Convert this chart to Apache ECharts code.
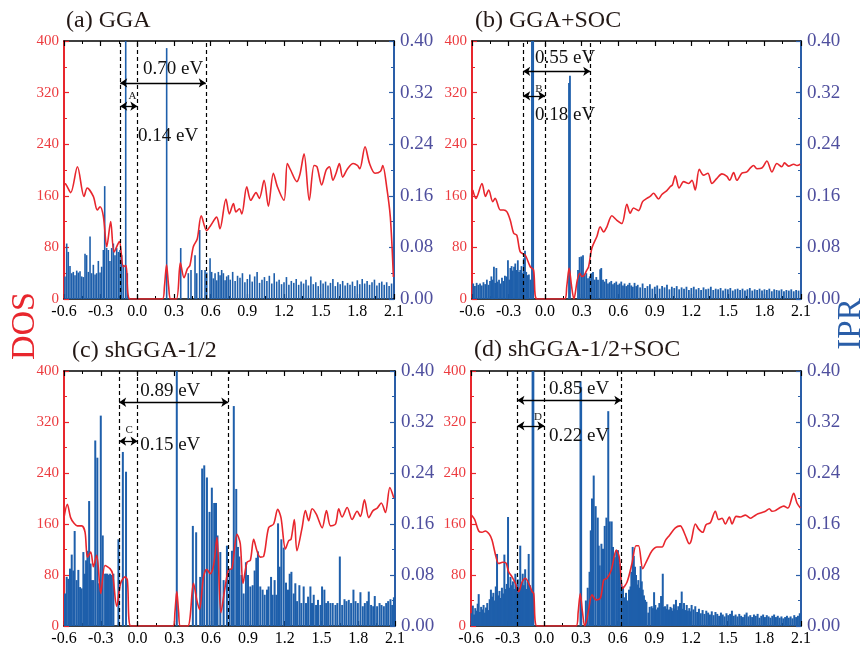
<!DOCTYPE html>
<html>
<head>
<meta charset="utf-8">
<script src="https://cdn.jsdelivr.net/npm/echarts/dist/echarts.min.js"></script>
<style>
html,body{margin:0;padding:0;background:#fff}
#chart{width:864px;height:647px}
</style>
</head>
<body>
<div id="chart"></div>
<script>
// ---------- DOS curves: [energy (eV), DOS] ----------
const dosA = [[-0.60,179],[-0.585,178],[-0.545,165],[-0.49,205],[-0.436,159],[-0.41,172],[-0.36,159],[-0.328,138],[-0.305,143],[-0.278,128],[-0.25,81],[-0.218,120],[-0.19,73],[-0.147,89],[-0.115,50],[-0.093,52],[-0.06,0],[0.205,0],[0.222,20],[0.239,53],[0.256,20],[0.273,0],[0.32,0],[0.352,56],[0.382,33],[0.41,47],[0.43,52],[0.458,81],[0.49,93],[0.523,129],[0.567,106],[0.60,114],[0.649,127],[0.676,109],[0.725,155],[0.753,132],[0.786,148],[0.807,135],[0.835,140],[0.855,132],[0.895,174],[0.928,153],[0.971,165],[0.998,156],[1.037,184],[1.072,144],[1.113,195],[1.146,174],[1.20,153],[1.227,210],[1.254,200],[1.305,182],[1.33,193],[1.364,225],[1.407,153],[1.446,207],[1.47,205],[1.508,177],[1.545,200],[1.572,205],[1.60,184],[1.626,195],[1.653,210],[1.68,189],[1.72,202],[1.766,210],[1.80,207],[1.82,202],[1.863,236],[1.90,210],[1.945,195],[1.99,198],[2.008,207],[2.04,174],[2.07,127],[2.095,34]];

const dosB = [[-0.594,169],[-0.567,156],[-0.518,179],[-0.49,159],[-0.463,169],[-0.43,151],[-0.41,156],[-0.368,138],[-0.34,138],[-0.313,135],[-0.286,122],[-0.258,102],[-0.232,99],[-0.204,73],[-0.163,68],[-0.122,50],[-0.095,45],[-0.067,0],[0.16,0],[0.178,20],[0.197,48],[0.217,20],[0.236,0],[0.265,30],[0.285,40],[0.30,35],[0.318,36],[0.34,44],[0.357,50],[0.384,79],[0.425,97],[0.452,112],[0.48,104],[0.507,112],[0.548,129],[0.589,122],[0.63,117],[0.671,147],[0.698,133],[0.725,141],[0.767,137],[0.80,151],[0.835,156],[0.862,159],[0.89,164],[0.931,155],[0.958,162],[0.999,168],[1.026,174],[1.045,177],[1.068,191],[1.10,172],[1.137,182],[1.178,179],[1.205,184],[1.232,169],[1.265,201],[1.30,192],[1.336,195],[1.369,179],[1.41,187],[1.451,194],[1.492,190],[1.514,184],[1.547,196],[1.574,184],[1.615,195],[1.656,197],[1.683,203],[1.711,207],[1.738,202],[1.779,203],[1.82,214],[1.861,197],[1.902,210],[1.943,205],[1.965,211],[1.998,206],[2.04,209],[2.067,207],[2.094,209]];

const dosC = [[-0.60,170],[-0.573,191],[-0.546,170],[-0.518,161],[-0.491,157],[-0.455,157],[-0.428,147],[-0.409,108],[-0.382,116],[-0.36,93],[-0.333,111],[-0.30,51],[-0.265,95],[-0.225,90],[-0.204,82],[-0.17,31],[-0.138,67],[-0.102,77],[-0.083,72],[-0.055,0],[0.29,0],[0.305,22],[0.32,54],[0.335,22],[0.35,0],[0.41,0],[0.456,67],[0.483,41],[0.505,26],[0.538,77],[0.565,89],[0.593,82],[0.62,95],[0.648,139],[0.68,21],[0.715,62],[0.742,88],[0.77,90],[0.811,144],[0.838,129],[0.86,67],[0.893,100],[0.92,103],[0.947,136],[0.974,118],[1.001,108],[1.028,109],[1.069,154],[1.11,160],[1.143,183],[1.17,170],[1.206,121],[1.233,134],[1.252,136],[1.279,167],[1.30,118],[1.342,154],[1.369,181],[1.396,165],[1.424,184],[1.459,175],[1.506,154],[1.541,181],[1.574,157],[1.615,160],[1.641,184],[1.668,171],[1.71,186],[1.75,167],[1.791,180],[1.818,172],[1.851,198],[1.886,170],[1.921,181],[1.955,185],[1.988,193],[2.022,178],[2.058,217],[2.09,201]];

const dosD = [[-0.597,174],[-0.57,167],[-0.537,149],[-0.51,147],[-0.483,149],[-0.45,144],[-0.428,135],[-0.395,108],[-0.373,98],[-0.341,100],[-0.314,99],[-0.292,85],[-0.264,77],[-0.237,67],[-0.21,54],[-0.182,69],[-0.155,75],[-0.128,67],[-0.10,54],[-0.087,51],[-0.06,0],[0.26,0],[0.277,22],[0.294,51],[0.312,22],[0.33,0],[0.345,8],[0.363,26],[0.39,49],[0.423,41],[0.459,44],[0.486,72],[0.513,75],[0.548,88],[0.589,119],[0.613,108],[0.641,59],[0.677,69],[0.717,98],[0.75,126],[0.771,126],[0.805,90],[0.84,103],[0.881,118],[0.922,124],[0.963,124],[0.99,134],[1.023,142],[1.072,154],[1.113,157],[1.132,152],[1.154,142],[1.186,129],[1.202,134],[1.236,160],[1.263,152],[1.296,147],[1.323,159],[1.358,162],[1.399,180],[1.426,167],[1.454,169],[1.481,160],[1.514,171],[1.536,160],[1.569,172],[1.604,171],[1.645,174],[1.686,169],[1.713,172],[1.748,176],[1.781,178],[1.809,180],[1.841,184],[1.863,180],[1.89,181],[1.923,185],[1.958,188],[1.993,185],[2.04,208],[2.067,193],[2.095,185]];

// ---------- IPR of each state: [energy (eV), IPR] ----------
const iprA = [[-0.592,0.035],[-0.578,0.086],[-0.565,0.073],[-0.551,0.051],[-0.537,0.040],[-0.524,0.042],[-0.510,0.037],[-0.496,0.044],[-0.483,0.041],[-0.469,0.043],[-0.455,0.035],[-0.442,0.034],[-0.428,0.070],[-0.415,0.068],[-0.401,0.042],[-0.387,0.097],[-0.374,0.040],[-0.360,0.053],[-0.346,0.038],[-0.333,0.040],[-0.319,0.059],[-0.305,0.041],[-0.292,0.050],[-0.278,0.076],[-0.267,0.175],[-0.251,0.079],[-0.237,0.076],[-0.224,0.059],[-0.210,0.079],[-0.196,0.086],[-0.183,0.068],[-0.169,0.079],[-0.155,0.073],[-0.142,0.076],[-0.128,0.068],[-0.114,0.053],[-0.095,0.450],[-0.082,0.040],
[0.240,0.389],[0.355,0.079],[0.417,0.040],[0.439,0.045],[0.472,0.068],[0.486,0.040],[0.510,0.107],[0.527,0.045],[0.554,0.045],[0.568,0.041],[0.595,0.063],[0.608,0.042],[0.622,0.032],[0.636,0.040],[0.650,0.029],[0.663,0.042],[0.677,0.037],[0.690,0.045],[0.704,0.040],[0.718,0.029],[0.731,0.035],[0.745,0.037],
[0.76,0.030],[0.78,0.042],[0.80,0.028],[0.82,0.036],[0.84,0.033],[0.86,0.040],[0.88,0.026],[0.90,0.031],[0.92,0.038],[0.94,0.027],[0.96,0.035],[0.98,0.042],[1.00,0.025],[1.02,0.030],[1.04,0.034],[1.06,0.028],[1.08,0.036],[1.10,0.024],[1.12,0.040],[1.14,0.027],[1.16,0.030],[1.18,0.023],[1.20,0.026],[1.22,0.034],[1.24,0.022],[1.26,0.028],[1.28,0.025],[1.30,0.031],[1.32,0.022],[1.34,0.027],[1.36,0.024],[1.38,0.030],[1.40,0.021],[1.42,0.035],[1.44,0.023],[1.46,0.026],[1.48,0.020],[1.50,0.029],[1.52,0.024],[1.54,0.027],[1.56,0.021],[1.58,0.025],[1.60,0.031],[1.62,0.020],[1.64,0.026],[1.66,0.023],[1.68,0.028],[1.70,0.021],[1.72,0.025],[1.74,0.022],[1.76,0.027],[1.78,0.020],[1.80,0.029],[1.82,0.023],[1.84,0.031],[1.86,0.024],[1.88,0.028],[1.90,0.022],[1.92,0.026],[1.94,0.030],[1.96,0.021],[1.98,0.025],[2.00,0.027],[2.02,0.022],[2.04,0.026],[2.06,0.020],[2.08,0.024]];

const iprB = [[-0.590,0.024],[-0.576,0.020],[-0.562,0.025],[-0.548,0.022],[-0.534,0.024],[-0.520,0.021],[-0.506,0.026],[-0.492,0.023],[-0.478,0.030],[-0.464,0.022],[-0.452,0.028],[-0.441,0.035],[-0.430,0.030],[-0.420,0.050],[-0.410,0.025],[-0.400,0.048],[-0.390,0.027],[-0.378,0.030],[-0.366,0.024],[-0.354,0.033],[-0.342,0.028],[-0.330,0.036],[-0.318,0.035],[-0.305,0.060],[-0.295,0.030],[-0.285,0.048],[-0.275,0.051],[-0.265,0.044],[-0.255,0.050],[-0.245,0.055],[-0.235,0.045],[-0.224,0.060],[-0.214,0.042],[-0.204,0.045],[-0.194,0.051],[-0.184,0.040],[-0.175,0.063],[-0.165,0.075],[-0.155,0.042],[-0.145,0.037],[-0.133,0.038],[-0.120,0.030],[-0.108,0.450],[-0.098,0.450],
[0.196,0.335],[0.204,0.346],
[0.270,0.045],[0.283,0.065],[0.297,0.066],[0.311,0.068],[0.324,0.037],[0.338,0.040],[0.352,0.032],[0.366,0.035],[0.379,0.040],[0.393,0.042],[0.407,0.030],[0.420,0.034],[0.434,0.030],[0.452,0.046],[0.461,0.048],[0.475,0.030],[0.488,0.027],[0.502,0.031],[0.516,0.024],[0.530,0.026],[0.543,0.028],[0.557,0.023],[0.570,0.025],[0.584,0.027],[0.598,0.022],[0.611,0.024],[0.625,0.027],[0.639,0.021],[0.652,0.024],[0.666,0.020],[0.680,0.022],[0.693,0.025],[0.707,0.021],[0.720,0.019],[0.734,0.025],[0.748,0.020],
[0.76,0.022],[0.78,0.018],[0.80,0.024],[0.82,0.017],[0.84,0.020],[0.86,0.023],[0.88,0.016],[0.90,0.019],[0.92,0.021],[0.94,0.016],[0.96,0.020],[0.98,0.018],[1.00,0.022],[1.02,0.015],[1.04,0.019],[1.06,0.017],[1.08,0.020],[1.10,0.015],[1.12,0.018],[1.14,0.016],[1.16,0.019],[1.18,0.014],[1.20,0.017],[1.22,0.019],[1.24,0.015],[1.26,0.017],[1.28,0.014],[1.30,0.018],[1.32,0.015],[1.34,0.016],[1.36,0.019],[1.38,0.014],[1.40,0.016],[1.42,0.015],[1.44,0.017],[1.46,0.013],[1.48,0.016],[1.50,0.015],[1.52,0.017],[1.54,0.013],[1.56,0.015],[1.58,0.016],[1.60,0.014],[1.62,0.016],[1.64,0.013],[1.66,0.015],[1.68,0.017],[1.70,0.013],[1.72,0.015],[1.74,0.014],[1.76,0.016],[1.78,0.013],[1.80,0.015],[1.82,0.014],[1.84,0.016],[1.86,0.012],[1.88,0.015],[1.90,0.014],[1.92,0.013],[1.94,0.015],[1.96,0.012],[1.98,0.014],[2.00,0.013],[2.02,0.015],[2.04,0.012],[2.06,0.014],[2.08,0.013]];

const iprC = [[-0.592,0.051],[-0.578,0.077],[-0.565,0.074],[-0.551,0.090],[-0.537,0.112],[-0.524,0.087],[-0.513,0.149],[-0.497,0.072],[-0.483,0.088],[-0.469,0.061],[-0.456,0.059],[-0.442,0.116],[-0.429,0.082],[-0.420,0.103],[-0.409,0.118],[-0.395,0.196],[-0.383,0.098],[-0.372,0.072],[-0.360,0.072],[-0.345,0.291],[-0.328,0.264],[-0.314,0.067],[-0.300,0.330],[-0.284,0.142],[-0.265,0.082],[-0.255,0.082],[-0.246,0.082],[-0.235,0.080],[-0.224,0.082],[-0.210,0.080],[-0.197,0.082],[-0.156,0.136],[-0.120,0.273],[-0.094,0.242],
[0.320,0.450],[0.451,0.157],[0.478,0.147],[0.511,0.077],[0.527,0.247],[0.544,0.252],[0.566,0.233],[0.587,0.179],[0.606,0.217],[0.625,0.193],[0.640,0.193],[0.652,0.142],[0.675,0.116],[0.702,0.072],[0.729,0.126],[0.751,0.090],[0.770,0.118],[0.785,0.345],[0.805,0.215],[0.819,0.124],[0.830,0.109],[0.848,0.080],[0.865,0.051],[0.884,0.100],[0.901,0.080],[0.920,0.062],[0.939,0.064],[0.955,0.087],[0.969,0.107],[0.982,0.117],[1.001,0.062],[1.020,0.057],[1.037,0.049],[1.056,0.057],[1.069,0.062],[1.089,0.077],[1.102,0.049],[1.118,0.072],[1.132,0.049],[1.146,0.161],[1.159,0.093],[1.173,0.136],[1.192,0.123],[1.211,0.068],[1.227,0.057],[1.241,0.082],[1.255,0.085],[1.274,0.051],[1.287,0.067],[1.301,0.039],[1.320,0.064],[1.336,0.036],[1.355,0.062],[1.374,0.036],[1.391,0.046],[1.410,0.062],[1.423,0.036],[1.437,0.049],[1.456,0.033],[1.472,0.041],[1.492,0.033],[1.505,0.062],[1.524,0.057],[1.538,0.036],[1.554,0.039],[1.573,0.036],[1.592,0.036],[1.614,0.033],[1.630,0.036],[1.650,0.109],[1.669,0.033],[1.688,0.042],[1.704,0.039],[1.723,0.041],[1.742,0.036],[1.761,0.057],[1.778,0.039],[1.797,0.036],[1.818,0.053],[1.837,0.031],[1.854,0.036],[1.873,0.039],[1.886,0.054],[1.905,0.033],[1.922,0.031],[1.935,0.047],[1.954,0.031],[1.974,0.036],[1.990,0.033],[2.009,0.031],[2.028,0.036],[2.044,0.039],[2.063,0.042],[2.077,0.033],[2.091,0.045]];

const iprD = [[-0.595,0.020],[-0.585,0.032],[-0.575,0.018],[-0.565,0.028],[-0.555,0.024],[-0.545,0.035],[-0.537,0.050],[-0.527,0.022],[-0.517,0.030],[-0.507,0.026],[-0.497,0.033],[-0.487,0.021],[-0.477,0.029],[-0.467,0.036],[-0.457,0.025],[-0.447,0.042],[-0.437,0.057],[-0.427,0.046],[-0.417,0.052],[-0.407,0.040],[-0.397,0.062],[-0.387,0.113],[-0.377,0.048],[-0.367,0.055],[-0.357,0.044],[-0.347,0.060],[-0.337,0.051],[-0.327,0.112],[-0.317,0.058],[-0.307,0.066],[-0.297,0.171],[-0.287,0.060],[-0.277,0.077],[-0.267,0.064],[-0.257,0.070],[-0.247,0.058],[-0.237,0.082],[-0.227,0.065],[-0.217,0.073],[-0.207,0.060],[-0.197,0.126],[-0.187,0.068],[-0.177,0.082],[-0.167,0.064],[-0.157,0.089],[-0.147,0.058],[-0.137,0.070],[-0.128,0.113],[-0.118,0.064],[-0.108,0.055],[-0.096,0.450],[-0.090,0.450],
[0.296,0.384],[0.301,0.375],[0.340,0.040],[0.355,0.060],[0.370,0.085],[0.380,0.150],[0.390,0.200],[0.404,0.236],[0.420,0.188],[0.437,0.170],[0.445,0.126],[0.453,0.095],[0.467,0.129],[0.480,0.121],[0.494,0.157],[0.508,0.170],[0.523,0.337],[0.535,0.164],[0.551,0.164],[0.562,0.124],[0.576,0.108],[0.589,0.118],[0.603,0.119],[0.617,0.098],[0.630,0.067],[0.644,0.062],[0.655,0.045],[0.668,0.052],[0.680,0.040],[0.693,0.057],[0.705,0.062],[0.712,0.085],[0.723,0.124],[0.732,0.110],[0.742,0.093],[0.750,0.080],[0.758,0.065],[0.769,0.072],[0.778,0.060],[0.788,0.094],[0.797,0.070],[0.805,0.057],[0.815,0.048],[0.824,0.041],[0.835,0.038],[0.851,0.021],[0.862,0.030],[0.878,0.031],[0.888,0.028],[0.898,0.053],[0.908,0.033],[0.919,0.026],[0.930,0.029],[0.941,0.036],[0.955,0.047],[0.969,0.082],[0.978,0.030],[0.988,0.031],[0.997,0.027],[1.006,0.034],[1.014,0.025],[1.022,0.026],[1.032,0.030],[1.041,0.028],[1.050,0.024],[1.060,0.034],[1.068,0.027],[1.077,0.041],[1.087,0.025],[1.096,0.031],[1.103,0.026],[1.110,0.036],[1.117,0.024],[1.124,0.054],[1.133,0.027],[1.143,0.036],[1.154,0.025],[1.165,0.033],[1.175,0.024],[1.186,0.028],[1.195,0.023],[1.205,0.033],
[1.220,0.026],[1.235,0.031],[1.250,0.022],[1.265,0.027],[1.280,0.020],[1.295,0.025],[1.310,0.019],[1.325,0.024],[1.340,0.021],[1.355,0.018],[1.370,0.023],[1.385,0.017],[1.400,0.022],[1.415,0.019],[1.430,0.016],[1.445,0.021],[1.460,0.018],[1.475,0.015],[1.490,0.020],[1.505,0.017],[1.520,0.019],[1.535,0.024],[1.550,0.016],[1.565,0.018],[1.580,0.015],[1.595,0.019],[1.610,0.016],[1.625,0.014],[1.640,0.018],[1.655,0.021],[1.670,0.015],[1.685,0.017],[1.700,0.014],[1.715,0.018],[1.730,0.016],[1.745,0.019],[1.760,0.013],[1.775,0.016],[1.790,0.018],[1.805,0.014],[1.820,0.017],[1.835,0.015],[1.850,0.013],[1.865,0.016],[1.880,0.018],[1.895,0.014],[1.910,0.016],[1.925,0.013],[1.940,0.015],[1.955,0.012],[1.970,0.014],[1.985,0.016],[2.000,0.013],[2.015,0.015],[2.030,0.012],[2.045,0.017],[2.060,0.014],[2.075,0.016],[2.090,0.020]];

// ---------- band edges (eV): [lower edge, Fermi level, upper edge] ----------
const edgesA = [-0.14, 0.0, 0.56];
const edgesB = [-0.18, 0.0, 0.37];
const edgesC = [-0.15, 0.0, 0.74];
const edgesD = [-0.22, 0.0, 0.63];

// ---------- tick labels and titles ----------
const titles = ['(a) GGA', '(b) GGA+SOC', '(c) shGGA-1/2', '(d) shGGA-1/2+SOC'];
const tags = ['A', 'B', 'C', 'D'];
const xTicks = { min: -0.6, max: 2.1, step: 0.3 };
const dosTicks = { min: 0, max: 400, step: 80 };
const iprTicks = { min: 0, max: 0.40, step: 0.08 };

// ---------- layout and styles ----------
const FONT = '"Liberation Serif","Times New Roman",Times,serif';
const RED = '#e8262d';
const BLUE = '#2a5ea8';
const BAR = '#1e5fab';

const panels = [
  { dos: dosA, ipr: iprA, edges: edgesA, grid: { left: 64, top: 41, width: 330, height: 258 }, barWidth: 1.6,
    title: [66, 21], arrowY: [335, 299], gapLabel: [0.046, 357], edgeLabel: [0.006, 253], tagPos: [-0.039, 314] },
  { dos: dosB, ipr: iprB, edges: edgesB, grid: { left: 472, top: 41, width: 329, height: 258 }, barWidth: 1.8,
    title: [475, 21], arrowY: [353, 315], gapLabel: [-0.083, 374], edgeLabel: [-0.083, 285], tagPos: [-0.05, 326] },
  { dos: dosC, ipr: iprC, edges: edgesC, grid: { left: 64, top: 371, width: 331, height: 259 }, barWidth: 2,
    title: [72, 351], arrowY: [351, 290], gapLabel: [0.021, 369], edgeLabel: [0.021, 284], tagPos: [-0.069, 307] },
  { dos: dosD, ipr: iprD, edges: edgesD, grid: { left: 471, top: 371, width: 330, height: 259 }, barWidth: 2,
    title: [474, 350], arrowY: [354, 314], gapLabel: [0.038, 372], edgeLabel: [0.038, 298], tagPos: [-0.052, 327] }
];

const chart = echarts.init(document.getElementById('chart'), null, { renderer: 'canvas' });

function xAxisFor(i, pos) {
  return {
    type: 'value', gridIndex: i, position: pos,
    min: xTicks.min, max: xTicks.max, interval: xTicks.step,
    axisLine: { show: true, onZero: false, lineStyle: { color: '#000', width: 1.5 } },
    axisTick: { show: true, inside: true, length: 5, lineStyle: { color: '#000', width: 1.2 } },
    minorTick: { show: true, splitNumber: 2, length: 3, lineStyle: { color: '#000', width: 1 } },
    axisLabel: pos === 'bottom'
      ? { show: true, color: '#000', fontFamily: FONT, fontSize: 16, margin: 5, formatter: v => v.toFixed(1) }
      : { show: false },
    splitLine: { show: false }
  };
}

const grids = [], xAxes = [], yAxes = [], series = [];
panels.forEach((p, i) => {
  grids.push(Object.assign({ containLabel: false }, p.grid));
  xAxes.push(xAxisFor(i, 'bottom'), xAxisFor(i, 'top'));
  yAxes.push({
    type: 'value', gridIndex: i, position: 'left',
    min: dosTicks.min, max: dosTicks.max, interval: dosTicks.step,
    axisLine: { show: true, onZero: false, lineStyle: { color: RED, width: 2 } },
    axisTick: { show: true, inside: true, length: 5, lineStyle: { color: RED, width: 1.2 } },
    minorTick: { show: true, splitNumber: 2, length: 3, lineStyle: { color: RED, width: 1 } },
    axisLabel: { color: '#ec3b3f', fontFamily: FONT, fontSize: 15, margin: 5 },
    splitLine: { show: false }
  });
  yAxes.push({
    type: 'value', gridIndex: i, position: 'right',
    min: iprTicks.min, max: iprTicks.max, interval: iprTicks.step,
    axisLine: { show: true, onZero: false, lineStyle: { color: BLUE, width: 2 } },
    axisTick: { show: true, inside: true, length: 5, lineStyle: { color: BLUE, width: 1.2 } },
    minorTick: { show: true, splitNumber: 2, length: 3, lineStyle: { color: BLUE, width: 1 } },
    axisLabel: { color: '#4f4f9e', fontFamily: FONT, fontSize: 19, margin: 6, formatter: v => v.toFixed(2) },
    splitLine: { show: false }
  });
  // IPR bars with the dashed band-edge markers
  series.push({
    type: 'bar', xAxisIndex: 2 * i, yAxisIndex: 2 * i + 1,
    data: p.ipr, barWidth: p.barWidth, clip: true, z: 2,
    itemStyle: { color: BAR },
    markLine: {
      silent: true, symbol: 'none', animation: false,
      label: { show: false },
      lineStyle: { color: '#000', type: [4, 3], width: 1.2 },
      data: p.edges.map(e => ({ xAxis: e }))
    }
  });
  // DOS curve with the gap arrows
  const [lo, ef, hi] = p.edges;
  series.push({
    type: 'line', xAxisIndex: 2 * i, yAxisIndex: 2 * i,
    data: p.dos, smooth: 0.3, showSymbol: false, clip: true, z: 4,
    lineStyle: { color: RED, width: 1.6 },
    markLine: {
      silent: true, animation: false,
      symbol: ['arrow', 'arrow'], symbolSize: 7,
      label: { show: false },
      lineStyle: { color: '#000', type: 'solid', width: 1.3 },
      data: [
        [{ coord: [lo, p.arrowY[0]] }, { coord: [hi, p.arrowY[0]] }],
        [{ coord: [lo, p.arrowY[1]] }, { coord: [ef, p.arrowY[1]] }]
      ]
    }
  });
});

chart.setOption({
  animation: false,
  backgroundColor: '#fff',
  grid: grids, xAxis: xAxes, yAxis: yAxes, series: series
});

function txt(x, y, text, size, color, align, rot) {
  return {
    type: 'text', x: x, y: y, rotation: rot || 0, z: 100,
    style: {
      text: text, fontFamily: FONT, fontSize: size, fill: color,
      textAlign: align, align: align, textVerticalAlign: 'middle', verticalAlign: 'middle'
    }
  };
}

const gfx = [];
panels.forEach((p, i) => {
  const finder = { xAxisIndex: 2 * i, yAxisIndex: 2 * i };
  const [lo, ef, hi] = p.edges;
  const gap = (hi - lo).toFixed(2) + ' eV';
  const edge = (ef - lo).toFixed(2) + ' eV';
  const g = chart.convertToPixel(finder, p.gapLabel);
  const e = chart.convertToPixel(finder, p.edgeLabel);
  const t = chart.convertToPixel(finder, p.tagPos);
  gfx.push(txt(g[0], g[1], gap, 19, '#111', 'left'));
  gfx.push(txt(e[0], e[1], edge, 19, '#111', 'left'));
  gfx.push(txt(t[0], t[1], tags[i], 11, '#222', 'center'));
  gfx.push(txt(p.title[0], p.title[1], titles[i], 24, '#231815', 'left'));
});
gfx.push(txt(25, 326, 'DOS', 34, RED, 'center', Math.PI / 2));
gfx.push(txt(851, 324, 'IPR', 33, BLUE, 'center', Math.PI / 2));

chart.setOption({ graphic: { elements: gfx } });
</script>
</body>
</html>
